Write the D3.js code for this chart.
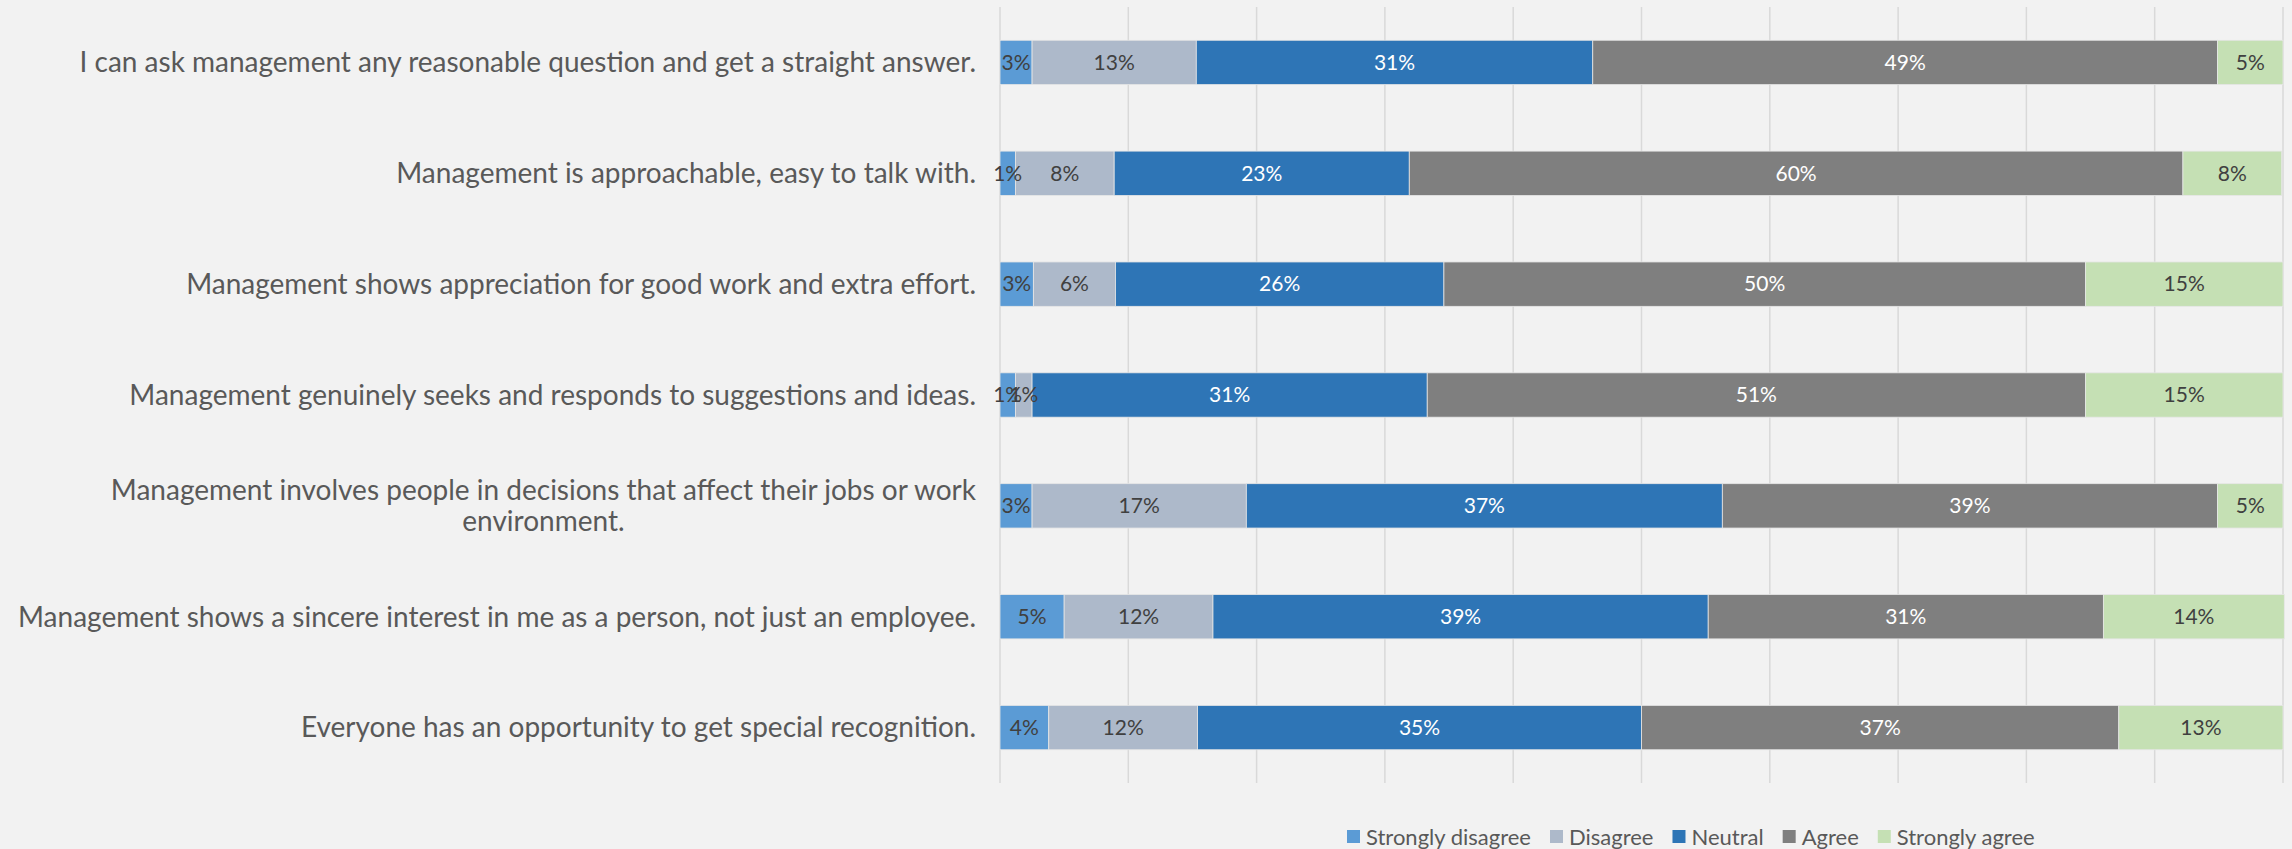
<!DOCTYPE html>
<html><head><meta charset="utf-8">
<script src="https://cdn.jsdelivr.net/npm/d3@7"></script>
<style>html,body{margin:0;padding:0;background:#F2F2F2;}svg{display:block;}</style>
</head><body>
<svg id="chart" width="2292" height="849"></svg>
<script>
const categories = [
  "I can ask management any reasonable question and get a straight answer.",
  "Management is approachable, easy to talk with.",
  "Management shows appreciation for good work and extra effort.",
  "Management genuinely seeks and responds to suggestions and ideas.",
  "Management involves people in decisions that affect their jobs or work environment.",
  "Management shows a sincere interest in me as a person, not just an employee.",
  "Everyone has an opportunity to get special recognition."
];
const seriesNames = ["Strongly disagree", "Disagree", "Neutral", "Agree", "Strongly agree"];
const stronglyDisagree = [0.025, 0.012, 0.026, 0.012, 0.025, 0.050, 0.038];
const disagree         = [0.128, 0.077, 0.064, 0.013, 0.167, 0.116, 0.116];
const neutral          = [0.309, 0.230, 0.256, 0.308, 0.371, 0.386, 0.346];
const agree            = [0.487, 0.603, 0.500, 0.513, 0.386, 0.308, 0.372];
const stronglyAgree    = [0.051, 0.077, 0.154, 0.154, 0.051, 0.141, 0.128];
const xTicks = [0, 0.1, 0.2, 0.3, 0.4, 0.5, 0.6, 0.7, 0.8, 0.9, 1.0];

const colors = ["#5B9BD5", "#ADB9CA", "#2E75B6", "#7F7F7F", "#C5E0B4"];
const labelColors = ["#404040", "#404040", "#FFFFFF", "#FFFFFF", "#404040"];

const seriesValues = [stronglyDisagree, disagree, neutral, agree, stronglyAgree];
const rows = categories.map((c, i) => {
  const r = {cat: c};
  seriesNames.forEach((s, j) => r[s] = seriesValues[j][i]);
  return r;
});
const stacked = d3.stack().keys(seriesNames)(rows);

const svg = d3.select("#chart");
const font = "Lato, 'Open Sans', sans-serif";
svg.append("rect").attr("width", 2292).attr("height", 849).attr("fill", "#F2F2F2");

const x = d3.scaleLinear().domain([0, 1]).range([1000, 2283]);
const y = d3.scaleBand().domain(categories).range([7, 783]).paddingInner(0.6).paddingOuter(0.3);

// gridlines
svg.append("g").selectAll("line").data(xTicks).join("line")
  .attr("x1", d => x(d)).attr("x2", d => x(d))
  .attr("y1", 7).attr("y2", 783)
  .attr("stroke", "#D9D9D9").attr("stroke-width", 1.5);

// bars
const groups = svg.append("g").selectAll("g").data(stacked).join("g")
  .attr("fill", (d, i) => colors[i]);
groups.selectAll("rect").data(d => d).join("rect")
  .attr("x", d => x(d[0]))
  .attr("width", d => x(d[1]) - x(d[0]))
  .attr("y", d => y(d.data.cat))
  .attr("height", y.bandwidth())
  .attr("stroke", "#E6E6E6").attr("stroke-width", 0.8);

// data labels
const fmt = d3.format(".0%");
const lg = svg.append("g");
stacked.forEach((s, i) => {
  lg.append("g").selectAll("text").data(s).join("text")
    .attr("x", d => (x(d[0]) + x(d[1])) / 2)
    .attr("y", d => y(d.data.cat) + y.bandwidth() / 2)
    .attr("dy", "0.35em")
    .attr("text-anchor", "middle")
    .attr("font-family", font).attr("font-size", 21)
    .attr("fill", labelColors[i])
    .text(d => fmt(d[1] - d[0]));
});

// category labels
const catG = svg.append("g");
const labelRight = 976;
const maxW = 1010;
categories.forEach(c => {
  const t = catG.append("text")
    .attr("font-family", font).attr("font-size", 28).attr("fill", "#595959");
  t.text(c);
  let lines = [c];
  if (t.node().getComputedTextLength() > maxW) {
    const words = c.split(" ");
    lines = [];
    let cur = [];
    words.forEach(w => {
      cur.push(w);
      t.text(cur.join(" "));
      if (t.node().getComputedTextLength() > 930 && cur.length > 1) {
        cur.pop();
        lines.push(cur.join(" "));
        cur = [w];
      }
    });
    lines.push(cur.join(" "));
  }
  t.text(null);
  const cy = y(c) + y.bandwidth() / 2;
  const lh = 31;
  let widths = lines.map(l => { t.text(l); return t.node().getComputedTextLength(); });
  t.text(null);
  const wMax = Math.max(...widths);
  const cx = labelRight - wMax / 2;
  lines.forEach((l, k) => {
    t.append("tspan")
      .attr("x", lines.length > 1 ? cx : labelRight)
      .attr("y", cy + (k - (lines.length - 1) / 2) * lh)
      .attr("dy", "0.35em")
      .text(l);
  });
  t.attr("text-anchor", lines.length > 1 ? "middle" : "end");
});

// legend
const legend = svg.append("g");
let lx = 1347;
const ly = 837;
seriesNames.forEach((s, i) => {
  legend.append("rect").attr("x", lx).attr("y", ly - 7).attr("width", 13).attr("height", 13).attr("fill", colors[i]);
  const t = legend.append("text").attr("x", lx + 19).attr("y", ly).attr("dy", "0.35em")
    .attr("font-family", font).attr("font-size", 22).attr("fill", "#595959").text(s);
  lx += 19 + t.node().getComputedTextLength() + 19;
});
</script>
</body></html>
